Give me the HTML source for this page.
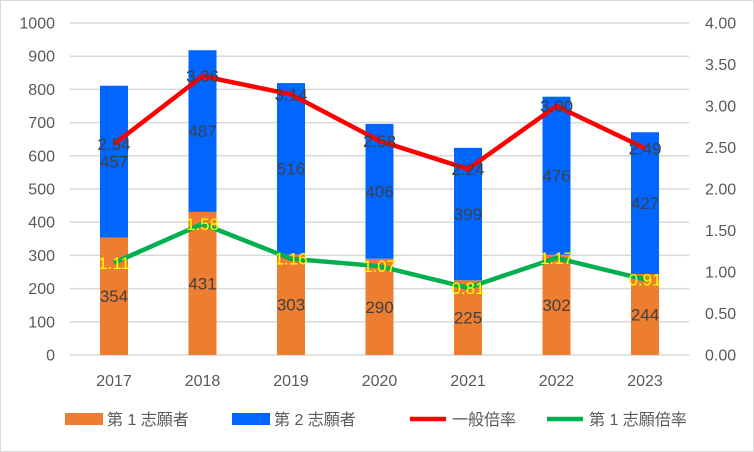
<!DOCTYPE html>
<html><head><meta charset="utf-8"><style>
body{margin:0;background:#fff}
svg{display:block;font-family:"Liberation Sans","Noto Sans CJK JP",sans-serif}
</style></head><body>
<svg id="c" width="754" height="452">
<rect x="0.5" y="0.5" width="753" height="451" fill="#fff" stroke="#d9d9d9"/>
</svg>
<script>
const categories=["2017","2018","2019","2020","2021","2022","2023"];
const first=[354,431,303,290,225,302,244];
const second=[457,487,516,406,399,476,427];
const generalRate=[2.54,3.36,3.14,2.58,2.24,3.00,2.49];
const firstRate=[1.11,1.58,1.16,1.07,0.81,1.17,0.91];
const leftTicks=[0,100,200,300,400,500,600,700,800,900,1000];
const rightTicks=["0.00","0.50","1.00","1.50","2.00","2.50","3.00","3.50","4.00"];
const svg=document.getElementById('c');const NS="http://www.w3.org/2000/svg";
function el(t,a,p){const e=document.createElementNS(NS,t);for(const k in a)e.setAttribute(k,a[k]);(p||svg).appendChild(e);return e;}
const L=69.75,R=689.25,T=23,B=355;
const band=(R-L)/categories.length;
const xc=i=>L+band*(i+0.5);
const yL=v=>B-(v/1000)*(B-T);
const yR=v=>B-(v/4)*(B-T);
leftTicks.forEach(v=>{
 const g=el('line',{x1:L,x2:R,y1:yL(v),y2:yL(v),stroke:'#d9d9d9','stroke-width':1.5});
 
 const t=el('text',{x:55,y:yL(v)+5.5,'text-anchor':'end','font-size':16,fill:'#595959'});t.textContent=v;
 
});
rightTicks.forEach(s=>{
 const t=el('text',{x:705,y:yR(parseFloat(s))+5.5,'font-size':16,fill:'#595959'});t.textContent=s;
 
});
categories.forEach((c,i)=>{
 const t=el('text',{x:xc(i),y:386,'text-anchor':'middle','font-size':16,fill:'#595959'});t.textContent=c;
 
 const w=28;
 const b1=el('rect',{x:xc(i)-w/2,y:yL(first[i]),width:w,height:B-yL(first[i]),fill:'#ed7d31'});
 
 const b2=el('rect',{x:xc(i)-w/2,y:yL(first[i]+second[i]),width:w,height:yL(first[i])-yL(first[i]+second[i]),fill:'#0066ff'});
 
 const l1=el('text',{x:xc(i),y:yL(first[i]/2)+6,'text-anchor':'middle','font-size':17,fill:'#404040'});l1.textContent=first[i];
 
 const l2=el('text',{x:xc(i),y:yL(first[i]+second[i]/2)+6,'text-anchor':'middle','font-size':17,fill:'#404040'});l2.textContent=second[i];
 
});
function line(data,color,name,lblColor){
 const p=el('polyline',{points:data.map((v,i)=>xc(i)+','+yR(v)).join(' '),fill:'none',stroke:color,'stroke-width':4.5,'stroke-linejoin':'round'});
 
 data.forEach((v,i)=>{const t=el('text',{x:xc(i),y:yR(v)+6,'text-anchor':'middle','font-size':17,fill:lblColor});t.textContent=v.toFixed(2);
 });
}
line(generalRate,'#ff0000','general-rate-line','#404040');
line(firstRate,'#00b050','first-rate-line','#ffff00');
const leg=[["rect","#ed7d31",65,"第 1 志願者"],["rect","#0066ff",232,"第 2 志願者"],["line","#ff0000",410,"一般倍率"],["line","#00b050",547,"第 1 志願倍率"]];
leg.forEach(([k,c,x,s])=>{
 const g=el('g',{});
 if(k==='rect')el('rect',{x:x,y:413,width:38,height:12,fill:c},g);
 else el('line',{x1:x,x2:x+36,y1:419,y2:419,stroke:c,'stroke-width':4.5},g);
 const t=el('text',{x:x+42,y:425,'font-size':16,fill:'#595959'},g);t.textContent=s;
});
</script>
</body></html>
